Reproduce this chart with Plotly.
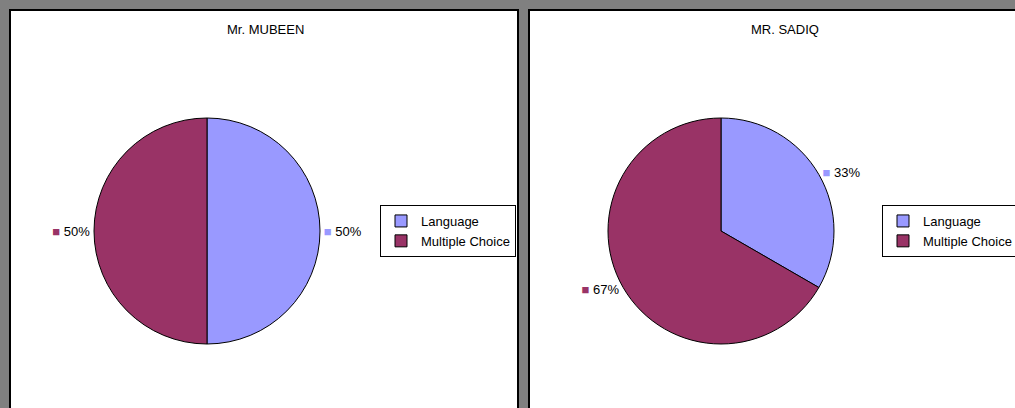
import plotly.graph_objects as go

# Question-type split for each teacher
categories = ["Language", "Multiple Choice"]
mubeen_counts = [1, 1]
sadiq_counts = [1, 2]
titles = ["Mr. MUBEEN", "MR. SADIQ"]
slice_colors = ["#9999FF", "#993366"]

W, H = 1015, 408
FONT = "Liberation Sans, Arial, sans-serif"


def px_x(v):
    return v / W


def px_y(v):
    return 1 - v / H


def label_templates():
    return [
        "<span style='color:%s'>■</span> %%{percent:.0%%}" % c for c in slice_colors
    ]


def pie(values, cx, cy, r, legend, group):
    return go.Pie(
        labels=categories,
        values=values,
        sort=False,
        direction="clockwise",
        rotation=0,
        marker=dict(colors=slice_colors, line=dict(color="black", width=1)),
        textposition="outside",
        texttemplate=label_templates(),
        textfont=dict(family=FONT, size=13, color="black"),
        hoverinfo="label+percent",
        domain=dict(x=[px_x(cx - r), px_x(cx + r)], y=[px_y(cy + r), px_y(cy - r)]),
        legend=legend,
        legendgroup=group,
        showlegend=True,
    )


fig = go.Figure()
fig.add_trace(pie(mubeen_counts, 207, 231, 113, "legend", "mubeen"))
fig.add_trace(pie(sadiq_counts, 721, 231, 113, "legend2", "sadiq"))

# Two white chart panels with dark borders on a grey sheet
panels = [(10, 518), (529, 1040)]
shapes = []
for x0, x1 in panels:
    shapes.append(dict(
        type="rect", xref="paper", yref="paper", layer="below",
        x0=px_x(x0), x1=px_x(x1), y0=px_y(420), y1=px_y(10),
        fillcolor="white", line=dict(color="black", width=2),
    ))

title_x = [265, 785]
annotations = []
for cx, t in zip(title_x, titles):
    annotations.append(dict(
        text=t, xref="paper", yref="paper", x=px_x(cx), y=px_y(30),
        xanchor="center", yanchor="middle", showarrow=False,
        font=dict(family=FONT, size=13, color="black"),
    ))

legend_style = dict(
    bgcolor="white", bordercolor="black", borderwidth=1,
    font=dict(family=FONT, size=13, color="black"),
    xanchor="left", yanchor="top", itemclick=False, itemdoubleclick=False,
)

fig.update_layout(
    width=W, height=H,
    margin=dict(l=0, r=0, t=0, b=0, autoexpand=False),
    paper_bgcolor="#808080",
    shapes=shapes,
    annotations=annotations,
    legend=dict(x=px_x(380), y=px_y(205), **legend_style),
    legend2=dict(x=px_x(882), y=px_y(205), **legend_style),
)

fig.write_html("out.html")
